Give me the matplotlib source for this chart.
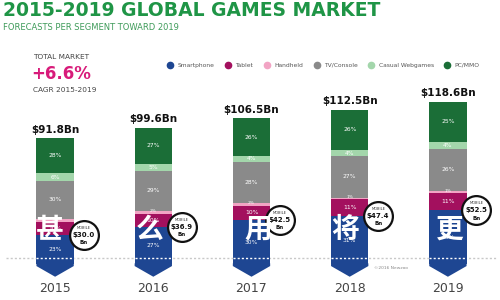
import matplotlib
matplotlib.use("Agg")
import matplotlib.pyplot as plt
from matplotlib.lines import Line2D
from matplotlib.patches import Polygon

# data
years = ["2015", "2016", "2017", "2018", "2019"]
totals = [91.8, 99.6, 106.5, 112.5, 118.6]
mobile = [30.0, 36.9, 42.5, 47.4, 52.5]
segments = ["Smartphone", "Tablet", "Handheld", "TV/Console", "Casual Webgames", "PC/MMO"]
smartphone = [23, 27, 30, 31, 33]
tablet = [10, 10, 10, 11, 11]
handheld = [3, 2, 2, 1, 1]
tv_console = [30, 29, 28, 27, 26]
casual = [6, 5, 4, 4, 4]
pc_mmo = [28, 27, 26, 26, 25]
overlay_chars = ["甚", "么", "用", "将", "更"]

COLORS = ["#1e4692", "#a3105e", "#f2a4c4", "#8a8a8a", "#a3d6ab", "#1b6e37"]
W, H = 500, 300
BASE = 264.0      # pixel row of the bar baseline
SCALE = 1.37      # pixels per $Bn
YMIN, YMAX = -12, 130

fig = plt.figure(figsize=(5, 3), dpi=100)
fig.patch.set_facecolor("white")
bottom_px = BASE - YMIN * SCALE
top_px = BASE - YMAX * SCALE
ax = fig.add_axes([6 / W, (H - bottom_px) / H, 491 / W, (bottom_px - top_px) / H])
ax.set_xlim(-0.5, 4.5)
ax.set_ylim(YMIN, YMAX)
for s in ax.spines.values():
    s.set_visible(False)
ax.set_yticks([])
ax.set_xticks(range(len(years)))
ax.set_xticklabels(years, fontsize=9, color="#444444")
ax.tick_params(axis="x", length=0, pad=1)

bw = 0.38
x = list(range(len(years)))
stack = [smartphone, tablet, handheld, tv_console, casual, pc_mmo]

# dotted guide line
DOT_Y = 4.4
ax.axhline(DOT_Y, color="#c8c8c8", lw=1.0, ls=(0, (1.5, 1.5)), zorder=1)

for i in x:
    bottom = 0.0
    for k, pct in enumerate(stack):
        v = totals[i] * pct[i] / 100
        ax.bar(i, v, bottom=bottom, width=bw, color=COLORS[k], lw=0, zorder=2)
        if k == 2:
            ax.text(i, bottom + v / 2 + 0.8, f"{pct[i]}%", ha="center", va="center",
                    fontsize=3.2, color="white", zorder=3)
        else:
            ax.text(i, bottom + v / 2, f"{pct[i]}%", ha="center", va="center",
                    fontsize=4.3, color="white", zorder=3)
        bottom += v
    # arrow point under the bar
    ax.add_patch(Polygon([(i - bw / 2, 0.5), (i + bw / 2, 0.5), (i + bw / 2, -1.5),
                          (i, -9.3), (i - bw / 2, -1.5)], closed=True,
                         facecolor=COLORS[0], lw=0, zorder=2))
    ax.plot([i - bw / 2, i + bw / 2], [DOT_Y, DOT_Y], color="white", lw=1.0,
            ls=(0, (1.5, 1.5)), zorder=3)
    ax.text(i, totals[i] + 2.5, f"${totals[i]:.1f}Bn", ha="center", va="bottom",
            fontsize=7.5, fontweight="bold", color="#111111")
    # mobile circle
    cx, cy = i + 0.29, totals[i] * smartphone[i] / 100
    ax.scatter([cx], [cy], s=430, facecolor="white", edgecolor="#111111", lw=1.6,
               zorder=5, clip_on=False)
    ax.annotate("MOBILE", (cx, cy), xytext=(0, 5), textcoords="offset points",
                ha="center", va="center", fontsize=2.6, color="#333333", zorder=6)
    ax.annotate(f"${mobile[i]:.1f}", (cx, cy), xytext=(0, 0), textcoords="offset points",
                ha="center", va="center", fontsize=5, fontweight="bold",
                color="#111111", zorder=6)
    ax.annotate("Bn", (cx, cy), xytext=(0, -5.5), textcoords="offset points",
                ha="center", va="center", fontsize=4, fontweight="bold",
                color="#111111", zorder=6)

ax.text(3.42, -3.2, "©2016 Newzoo", fontsize=3.2, color="#888888", ha="center", va="center")

# titles
fig.text(3 / W, 1 - 10 / H, "2015-2019 GLOBAL GAMES MARKET", fontsize=13.5,
         fontweight="bold", color="#1f9546", va="center", ha="left")
fig.text(3 / W, 1 - 28 / H, "FORECASTS PER SEGMENT TOWARD 2019", fontsize=6,
         color="#3f9b5a", va="center", ha="left")
fig.text(33 / W, 1 - 57 / H, "TOTAL MARKET", fontsize=5.3, color="#444444", va="center")
fig.text(31 / W, 1 - 74 / H, "+6.6%", fontsize=12, fontweight="bold", color="#d81b7a",
         va="center")
fig.text(33 / W, 1 - 90 / H, "CAGR 2015-2019", fontsize=5.3, color="#444444", va="center")

handles = [Line2D([], [], marker="o", ls="", markersize=4.5, markerfacecolor=c,
                  markeredgecolor=c) for c in COLORS]
fig.legend(handles, segments, loc="center", bbox_to_anchor=(322 / W, 1 - 65 / H),
           ncol=6, fontsize=4.3, frameon=False, handletextpad=0.2, columnspacing=1.3,
           labelcolor="#555555")

# white overlay characters
char_x = [50, 150, 258, 345, 450]
for cx, ch in zip(char_x, overlay_chars):
    fig.text(cx / W, 1 - 230 / H, ch, fontsize=20, fontweight="bold", color="white",
             ha="center", va="center", family=["Noto Sans CJK SC", "DejaVu Sans"],
             zorder=10)

fig.savefig("out.png", dpi=100)
